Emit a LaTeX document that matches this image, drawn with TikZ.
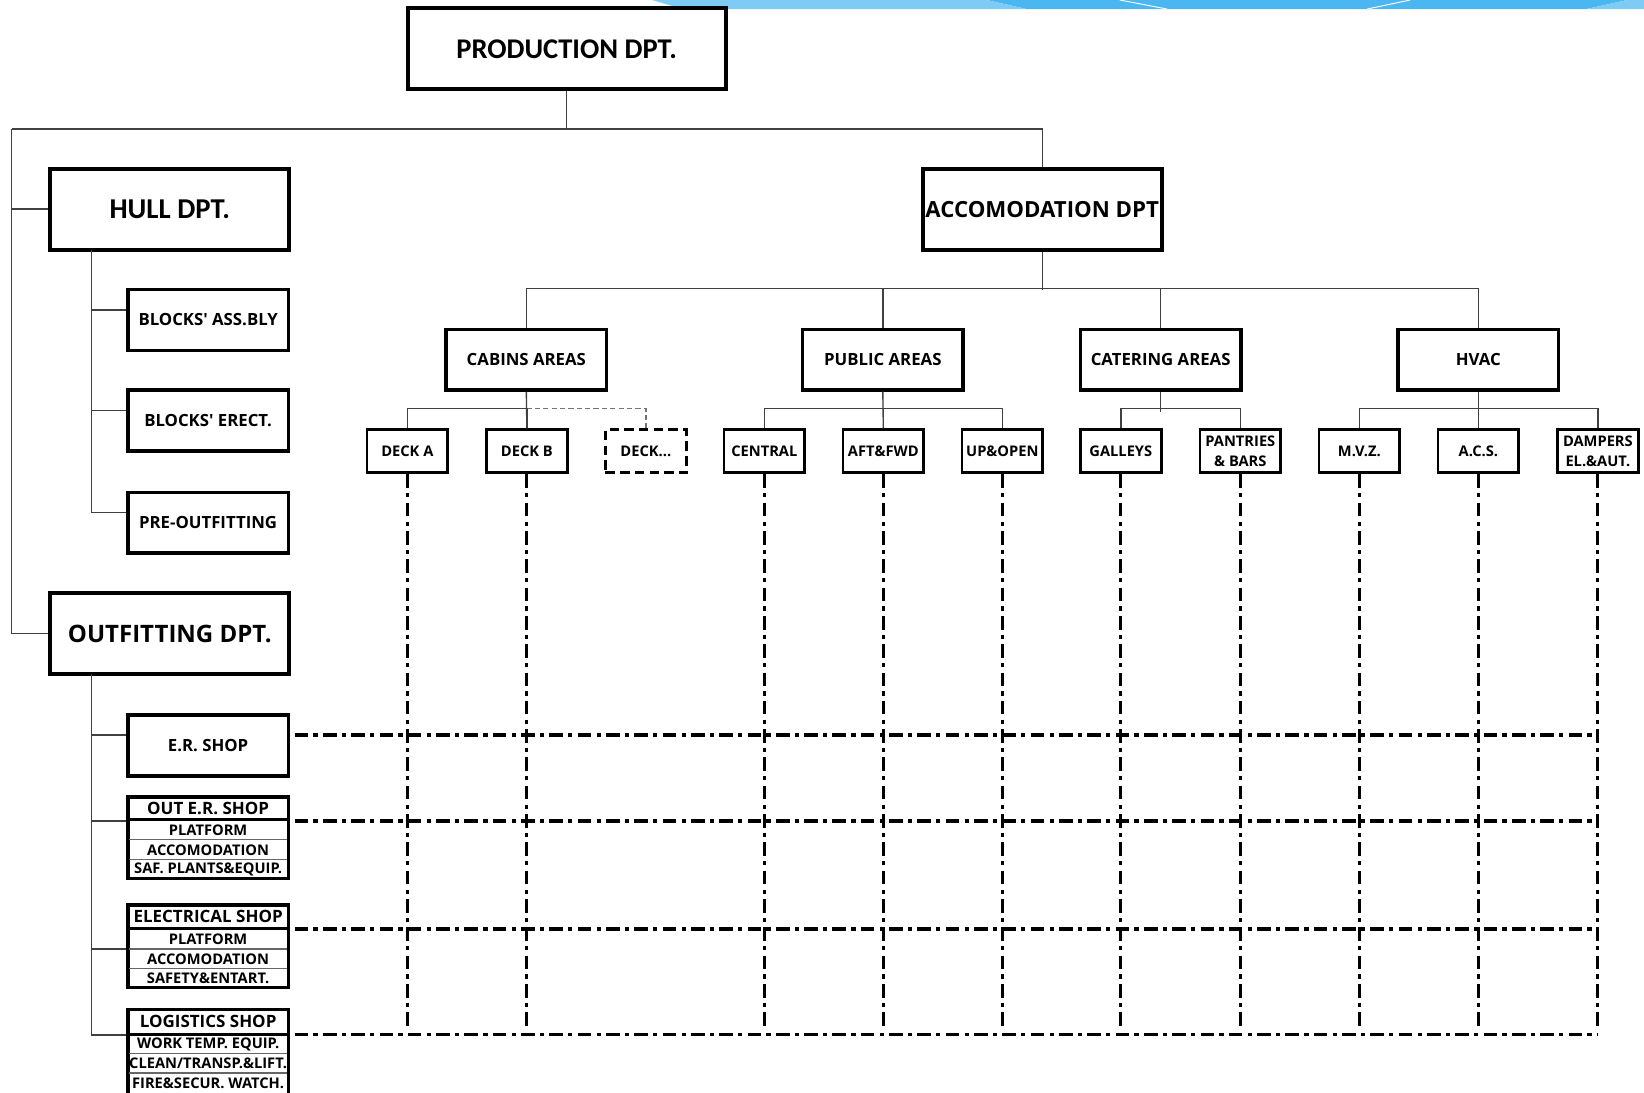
\documentclass[tikz,border=0pt]{standalone}
\usepackage{fontspec}
\setmainfont{Open Sans}
\newfontfamily\calfont{Carlito}
\begin{document}
\begin{tikzpicture}[x=1pt,y=-1pt,
  big/.style={draw, line width=3.8pt, fill=white, inner sep=0pt, align=center, minimum width=228pt, minimum height=77pt},
  mid/.style={draw, line width=3.2pt, fill=white, inner sep=0pt, align=center, minimum width=153pt, minimum height=58pt, font=\bfseries\fontsize{16}{19}\selectfont},
  sm/.style={draw, line width=2.8pt, fill=white, inner sep=0pt, align=center, minimum width=77pt, minimum height=41pt, font=\bfseries\fontsize{14}{19.5}\selectfont},
  multi/.style={draw, line width=3.2pt, fill=white, inner sep=0pt, minimum width=153pt},
  hdr/.style={inner sep=0pt, font=\bfseries\fontsize{16.2}{18}\selectfont},
  rowtxt/.style={inner sep=0pt, font=\bfseries\fontsize{14}{15}\selectfont},
  conn/.style={draw=black!75, line width=1.3pt},
  thinsep/.style={draw=black!60, line width=1.2pt},
  thicksep/.style={draw=black, line width=2.8pt},
  dd/.style={draw=black, line width=3pt, dash pattern=on 13pt off 5pt on 4pt off 5pt},
  graydash/.style={draw=black!55, line width=1.3pt, dash pattern=on 5pt off 3pt}
]
\clip (0,0) rectangle (1568,1042);
\fill[white] (0,0) rectangle (1568,1042);
% top decoration band
\fill[color={rgb,255:red,75;green,183;blue,241}] (941,0) -- (1552,0) -- (1513,8.6) -- (979,8.6) -- cycle;
\fill[color={rgb,255:red,126;green,203;blue,246}] (622,0) -- (941,0) -- (979,8.6) -- (651,8.6) -- cycle;
\fill[color={rgb,255:red,126;green,203;blue,246}] (1552,0) -- (1568,0) -- (1568,8.6) -- (1513,8.6) -- cycle;
\draw[white, line width=0.9pt] (1068,0) -- (1113,8.6);
\draw[white, line width=0.9pt] (1304,8.6) -- (1345,0);

% main departments
\node[big, minimum width=303pt, font=\calfont\bfseries\fontsize{27.2}{30}\selectfont] (prod) at (540.5,46.5) {PRODUCTION DPT.};
\node[big, font=\calfont\bfseries\fontsize{27.4}{30}\selectfont] (hull) at (162,199.5) {HULL DPT.};
\node[big, font=\bfseries\fontsize{21.2}{24}\selectfont] (acc) at (994,199.5) {ACCOMODATION DPT};
\node[big, font=\bfseries\fontsize{22.9}{26}\selectfont] (outf) at (162,604.5) {OUTFITTING DPT.};

% hull children
\node[mid] (bass) at (198.5,305) {BLOCKS\textquotesingle{} ASS.BLY};
\node[mid] (berect) at (198.5,401) {BLOCKS\textquotesingle{} ERECT.};
\node[mid] (preout) at (198.5,498.5) {PRE-OUTFITTING};

% outfitting children
\node[mid] (ershop) at (198.5,711) {E.R. SHOP};

\node[multi, minimum height=78pt] (oer) at (198.5,799) {};
\draw[thicksep] (122,782) -- (275,782);
\draw[thinsep] (123.5,801) -- (273.5,801);
\draw[thinsep] (123.5,820) -- (273.5,820);
\node[hdr] (oerh) at (198.5,771.5) {OUT E.R. SHOP};
\node[rowtxt] (oer1) at (198.5,792) {PLATFORM};
\node[rowtxt] (oer2) at (198.5,810.5) {ACCOMODATION};
\node[rowtxt] (oer3) at (198.5,829) {SAF. PLANTS\&EQUIP.};

\node[multi, minimum height=79pt] (elec) at (198.5,902.5) {};
\draw[thicksep] (122,885.5) -- (275,885.5);
\draw[thinsep] (123.5,905) -- (273.5,905);
\draw[thinsep] (123.5,924) -- (273.5,924);
\node[hdr] (elech) at (198.5,874.5) {ELECTRICAL SHOP};
\node[rowtxt] (elec1) at (198.5,895.5) {PLATFORM};
\node[rowtxt] (elec2) at (198.5,914.5) {ACCOMODATION};
\node[rowtxt] (elec3) at (198.5,933) {SAFETY\&ENTART.};

\node[multi, minimum height=100pt] (logi) at (198.5,1013) {};
\draw[thicksep] (122,986.5) -- (275,986.5);
\draw[thinsep] (123.5,1005) -- (273.5,1005);
\draw[thinsep] (123.5,1023.5) -- (273.5,1023.5);
\node[hdr] (logih) at (198.5,974.5) {LOGISTICS SHOP};
\node[rowtxt] (logi1) at (198.5,996) {WORK TEMP. EQUIP.};
\node[rowtxt] (logi2) at (198.5,1014.5) {CLEAN/TRANSP.\&LIFT.};
\node[rowtxt] (logi3) at (198.5,1033.5) {FIRE\&SECUR. WATCH.};

% accomodation level 2
\node[mid] (cab) at (502,343) {CABINS AREAS};
\node[mid] (pub) at (842,343) {PUBLIC AREAS};
\node[mid] (cat) at (1107,343) {CATERING AREAS};
\node[mid] (hvac) at (1410,343) {HVAC};

% level 3
\node[sm] (decka) at (388.5,430.5) {DECK A};
\node[sm] (deckb) at (502.5,430.5) {DECK B};
\node[sm, dashed, dash pattern=on 9pt off 5pt] (deckx) at (616,430.5) {DECK...};
\node[sm] (central) at (729,430.5) {CENTRAL};
\node[sm] (aftfwd) at (842.5,430.5) {AFT\&FWD};
\node[sm] (upopen) at (956,430.5) {UP\&OPEN};
\node[sm] (galleys) at (1069,430.5) {GALLEYS};
\node[sm] (pantries) at (1183,430.5) {PANTRIES\\\& BARS};
\node[sm] (mvz) at (1296.5,430.5) {M.V.Z.};
\node[sm] (acs) at (1410,430.5) {A.C.S.};
\node[sm] (dampers) at (1524,430.5) {DAMPERS\\EL.\&AUT.};

% connectors level 1
\coordinate (lt) at (11,123);
\draw[conn] (prod.south) |- (lt);
\draw[conn] (prod.south |- lt) -| (acc.north);
\draw[conn] (lt) |- (hull.west);
\draw[conn] (lt) |- (outf.west);

% hull children connectors
\coordinate (hs) at (87,238);
\draw[conn] (hs) |- ([yshift=9.5pt]bass.west);
\draw[conn] (hs) |- ([yshift=9.5pt]berect.west);
\draw[conn] (hs) |- ([yshift=9.5pt]preout.west);

% outfitting children connectors
\coordinate (os) at (87,643);
\draw[conn] (os) |- ([yshift=10pt]ershop.west);
\draw[conn] (os) |- (oer.west |- 0,783);
\draw[conn] (os) |- (elec.west |- 0,905);
\draw[conn] (os) |- (logi.west |- 0,987);

% accomodation connectors
\draw[conn] (acc.south) -- (acc.south |- 0,277);
\draw[conn] (cab.north) -- ++(0,-37) -| (hvac.north);
\draw[conn] (pub.north) -- ++(0,-37);
\draw[conn] (cat.north) -- ++(0,-37);

% level 3 connectors
\draw[graydash] (deckx.north) -- ++(0,-19) coordinate (dx) -- (dx -| deckb.north);
\draw[conn] (cab.south) -- (deckb.north);
\draw[conn] (decka.north) -- ++(0,-19) -| (deckb.north);
\draw[conn] (central.north) -- ++(0,-19) -| (upopen.north);
\draw[conn] (pub.south) -- (aftfwd.north);
\draw[conn] (galleys.north) -- ++(0,-19) -| (pantries.north);
\draw[conn] (cat.south) -- ++(0,19);
\draw[conn] (mvz.north) -- ++(0,-19) -| (dampers.north);
\draw[conn] (hvac.south) -- (acs.north);

% matrix dash-dot lines
\coordinate (r1) at (281,701);
\coordinate (r2) at (281,783);
\coordinate (r3) at (281,886);
\coordinate (r4) at (281,987);
\foreach \n in {decka,deckb,central,aftfwd,upopen,galleys,pantries,mvz,acs,dampers}{
  \draw[dd] (\n.south) -- (\n.south |- 0,981);
}
\foreach \r in {r1,r2,r3,r4}{
  \draw[dd] (\r) -- (\r -| dampers.south);
}
\end{tikzpicture}
\end{document}
